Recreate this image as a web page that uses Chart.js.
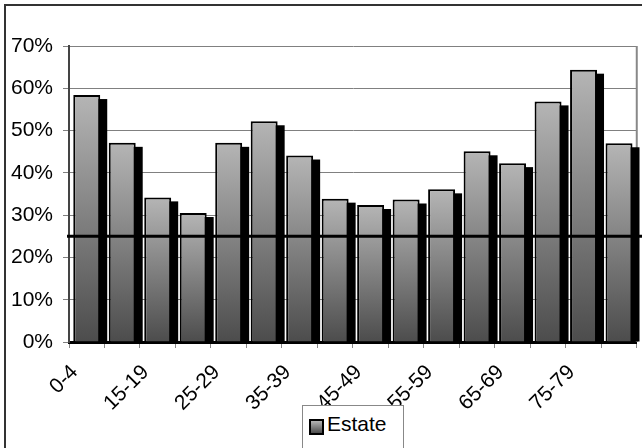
<!DOCTYPE html>
<html>
<head>
<meta charset="utf-8">
<script src="https://cdn.jsdelivr.net/npm/chart.js@4.4.1/dist/chart.umd.min.js"></script>
<style>
  body { margin: 0; background: #fff; }
  #wrap { position: relative; width: 642px; height: 448px; overflow: hidden; }
  #frame { position: absolute; left: 4px; top: 4px; width: 700px; height: 500px;
           border-top: 2px solid #333; border-left: 2px solid #333; }
  #chart { position: absolute; left: 0; top: 0; }
  #legend { position: absolute; left: 302px; top: 405px; width: 100px; height: 60px;
            background: #fff; border: 1px solid #888;
            font: 21px "Liberation Sans", Arial, sans-serif; color: #000; }
  #legend .sw { position: absolute; left: 6px; top: 13px; width: 11px; height: 12px;
                border: 2px solid #000; background: linear-gradient(#b5b5b5, #4c4c4c); }
  #legend .lbl { position: absolute; left: 24px; top: 6px; }
</style>
</head>
<body>
<div id="wrap">
  <div id="frame"></div>
  <canvas id="chart" width="649" height="448"></canvas>
  <div id="legend"></div>
</div>
<script>
// dati
const categories = ['0-4', '5-14', '15-19', '20-24', '25-29', '30-34', '35-39', '40-44',
                    '45-49', '50-54', '55-59', '60-64', '65-69', '70-74', '75-79', '80+'];
const estateValues = [58.4, 47.1, 34.2, 30.5, 47.1, 52.2, 44.1, 33.9,
                      32.4, 33.7, 36.1, 45.1, 42.3, 56.9, 64.4, 47.0];
const yTicks = [0, 10, 20, 30, 40, 50, 60, 70];
const referenceLevel = 25;
const seriesName = 'Estate';

Chart.defaults.font.family = '"Liberation Sans", Arial, sans-serif';
Chart.defaults.color = '#000';

function barGradient(context) {
    const chart = context.chart;
    const yScale = chart.scales.y;
    if (!yScale || !context.parsed) return '#888';
    const top = yScale.getPixelForValue(context.parsed.y);
    const base = yScale.getPixelForValue(0);
    if (!isFinite(top) || !isFinite(base) || top === base) return '#888';
    const g = chart.ctx.createLinearGradient(0, top, 0, base);
    g.addColorStop(0, '#b5b5b5');
    g.addColorStop(1, '#4c4c4c');
    return g;
}

// ombra nera dietro le barre + linea di riferimento
const shadowPlugin = {
    id: 'shadow',
    beforeDatasetsDraw(chart) {
        const ctx = chart.ctx;
        const area = chart.chartArea;
        ctx.save();
        ctx.strokeStyle = '#888';
        ctx.lineWidth = 2;
        ctx.beginPath();
        ctx.moveTo(area.right, area.top);
        ctx.lineTo(area.right, area.bottom);
        ctx.stroke();
        ctx.fillStyle = '#000';
        chart.getDatasetMeta(0).data.forEach(bar => {
            const left = bar.x - bar.width / 2 + 7;
            ctx.fillRect(left, bar.y + 4, bar.width, bar.base - bar.y - 4);
        });
        ctx.restore();
    },
    afterDatasetsDraw(chart) {
        const ctx = chart.ctx;
        const y = chart.scales.y.getPixelForValue(referenceLevel);
        ctx.save();
        ctx.strokeStyle = '#000';
        ctx.lineWidth = 3;
        ctx.beginPath();
        ctx.moveTo(chart.chartArea.left - 2, y);
        ctx.lineTo(chart.width, y);
        ctx.stroke();
        ctx.restore();
    }
};

new Chart(document.getElementById('chart'), {
    type: 'bar',
    data: {
        labels: categories,
        datasets: [{
            label: seriesName,
            data: estateValues,
            backgroundColor: barGradient,
            borderColor: '#000',
            borderWidth: 2,
            categoryPercentage: 1,
            barPercentage: 0.76
        }]
    },
    options: {
        responsive: false,
        animation: false,
        layout: { autoPadding: false, padding: { left: 0, top: 46, right: 5, bottom: 0 } },
        plugins: { legend: { display: false }, tooltip: { enabled: false } },
        scales: {
            x: {
                grid: { display: true, drawOnChartArea: false, offset: true, color: '#888', tickLength: 6 },
                border: { color: '#000', width: 3 },
                ticks: {
                    autoSkip: false,
                    minRotation: 45,
                    maxRotation: 45,
                    padding: 12,
                    labelOffset: -12,
                    font: { size: 21 },
                    callback: (v, i) => i % 2 === 0 ? categories[i] : ''
                },
                afterFit: s => { s.height = 106; }
            },
            y: {
                min: 0,
                max: 70,
                afterBuildTicks: s => { s.ticks = yTicks.map(v => ({ value: v })); },
                grid: { color: '#808080', tickLength: 6 },
                border: { color: '#444', width: 2 },
                ticks: {
                    padding: 10,
                    font: { size: 21 },
                    callback: v => v + '%'
                },
                afterFit: s => { s.width = 69; }
            }
        }
    },
    plugins: [shadowPlugin]
});

document.getElementById('legend').innerHTML =
    '<div class="sw"></div><div class="lbl">' + seriesName + '</div>';
</script>
</body>
</html>
